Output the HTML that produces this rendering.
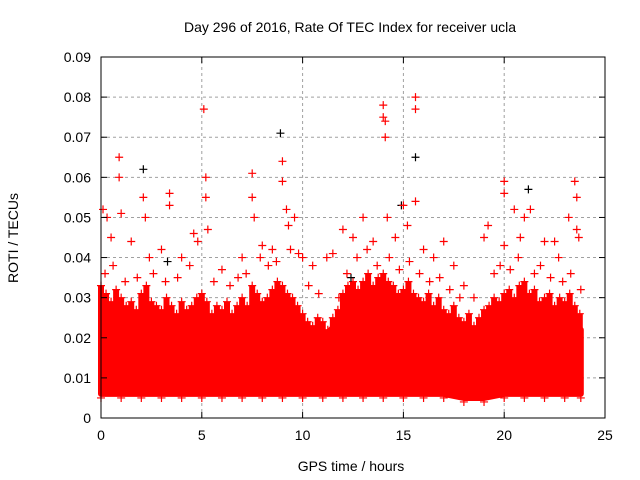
<!DOCTYPE html>
<html><head><meta charset="utf-8"><style>
body{margin:0;background:#fff;}
svg{display:block;font-family:"Liberation Sans",sans-serif;}
</style></head><body>
<svg id="chart" width="640" height="480">
<text x="350" y="32" text-anchor="middle" font-size="14">Day 296 of 2016, Rate Of TEC Index for receiver ucla</text>
<text x="351" y="471" text-anchor="middle" font-size="14">GPS time / hours</text>
<text transform="translate(18,238) rotate(-90)" text-anchor="middle" font-size="14">ROTI / TECUs</text>
<g id="grid"></g><g id="band"></g><g id="pts"></g><g id="axes"></g>
</svg>
<script>
const xTicks=[0,5,10,15,20,25];
const yTicks=[0,0.01,0.02,0.03,0.04,0.05,0.06,0.07,0.08,0.09];
const yTickLabels=["0","0.01","0.02","0.03","0.04","0.05","0.06","0.07","0.08","0.09"];
const bandHours=[0,1,2,3,4,5,6,7,8,9,10,11,12,13,14,15,16,17,18,19,20,21,22,23,23.8];
const bandUpper=[0.027,0.025,0.026,0.024,0.024,0.023,0.023,0.024,0.025,0.026,0.021,0.020,0.025,0.027,0.028,0.027,0.024,0.022,0.019,0.023,0.025,0.026,0.025,0.024,0.022];
const bandLower=[0.006,0.006,0.006,0.006,0.006,0.006,0.006,0.006,0.006,0.006,0.006,0.006,0.006,0.006,0.006,0.006,0.006,0.006,0.005,0.005,0.006,0.006,0.006,0.006,0.006];
const fringeHours=[0,0.25,0.5,0.75,1,1.25,1.5,1.75,2,2.25,2.5,2.75,3,3.25,3.5,3.75,4,4.25,4.5,4.75,5,5.25,5.5,5.75,6,6.25,6.5,6.75,7,7.25,7.5,7.75,8,8.25,8.5,8.75,9,9.25,9.5,9.75,10,10.25,10.5,10.75,11,11.25,11.5,11.75,12,12.25,12.5,12.75,13,13.25,13.5,13.75,14,14.25,14.5,14.75,15,15.25,15.5,15.75,16,16.25,16.5,16.75,17,17.25,17.5,17.75,18,18.25,18.5,18.75,19,19.25,19.5,19.75,20,20.25,20.5,20.75,21,21.25,21.5,21.75,22,22.25,22.5,22.75,23,23.25,23.5,23.75];
const fringeValues=[0.033,0.031,0.029,0.032,0.030,0.028,0.029,0.027,0.031,0.033,0.029,0.028,0.027,0.030,0.028,0.026,0.029,0.027,0.028,0.030,0.031,0.029,0.026,0.028,0.027,0.029,0.026,0.028,0.030,0.028,0.033,0.031,0.029,0.030,0.032,0.034,0.033,0.031,0.030,0.028,0.026,0.024,0.023,0.025,0.024,0.022,0.025,0.027,0.031,0.033,0.034,0.032,0.034,0.036,0.033,0.035,0.036,0.034,0.033,0.031,0.032,0.034,0.031,0.030,0.029,0.031,0.028,0.030,0.027,0.026,0.028,0.025,0.024,0.026,0.023,0.025,0.027,0.028,0.030,0.029,0.031,0.032,0.030,0.033,0.034,0.031,0.032,0.029,0.030,0.031,0.028,0.030,0.029,0.031,0.028,0.026];
const redHours=[0.1,0.3,0.5,0.9,0.9,1.0,1.5,2.1,2.2,2.4,3.0,3.4,3.4,4.0,4.6,4.8,5.1,5.2,5.2,5.3,6.0,7.0,7.5,7.5,7.6,8.0,8.5,9.0,9.0,9.2,9.3,9.6,10.0,10.5,11.2,11.5,12.0,12.5,13.0,13.5,14.0,14.0,14.1,14.1,14.2,14.6,15.0,15.2,15.6,15.6,15.6,16.0,16.5,17.0,17.5,18.0,18.5,19.0,19.2,20.0,20.0,20.0,20.5,20.8,21.0,21.3,22.0,22.5,22.7,23.2,23.5,23.6,23.6,23.7,
0.2,0.6,1.2,1.8,2.6,3.2,3.8,4.4,5.6,6.4,6.8,7.2,7.9,8.3,8.7,9.4,9.8,10.3,10.8,11.8,12.2,12.7,13.2,13.7,14.3,14.8,15.3,15.8,16.3,16.8,17.3,17.8,19.5,19.8,20.3,20.7,21.5,21.8,22.3,22.9,23.3,23.8];
const redValues=[0.052,0.05,0.045,0.065,0.06,0.051,0.044,0.055,0.05,0.04,0.042,0.056,0.053,0.04,0.046,0.044,0.077,0.06,0.055,0.047,0.037,0.04,0.061,0.055,0.05,0.043,0.042,0.064,0.059,0.052,0.048,0.05,0.04,0.038,0.04,0.041,0.047,0.045,0.05,0.044,0.078,0.075,0.074,0.07,0.05,0.045,0.053,0.048,0.08,0.077,0.054,0.042,0.04,0.044,0.038,0.033,0.03,0.045,0.048,0.059,0.056,0.043,0.052,0.045,0.05,0.052,0.044,0.044,0.04,0.05,0.059,0.055,0.047,0.045,
0.036,0.038,0.034,0.035,0.036,0.034,0.035,0.038,0.034,0.033,0.035,0.036,0.040,0.038,0.039,0.042,0.041,0.033,0.031,0.030,0.036,0.040,0.042,0.038,0.040,0.037,0.039,0.036,0.034,0.035,0.032,0.030,0.036,0.038,0.037,0.040,0.036,0.038,0.035,0.034,0.036,0.032];
const blackHours=[2.1,8.9,15.6,21.2,14.9,3.3,12.4];
const blackValues=[0.062,0.071,0.065,0.057,0.053,0.039,0.035];
const X0=101,X1=605,Y0=418,Y1=57;
const xs=h=>X0+(h/25)*(X1-X0);
const ys=v=>Y0-(v/0.09)*(Y0-Y1);
const NS="http://www.w3.org/2000/svg";
function mk(tag,attrs,parent){const e=document.createElementNS(NS,tag);for(const k in attrs)e.setAttribute(k,attrs[k]);document.getElementById(parent).appendChild(e);return e;}
xTicks.forEach((t,i)=>{
  if(i>0&&i<xTicks.length-1){const g=mk('line',{x1:xs(t),x2:xs(t),y1:Y0,y2:Y1,stroke:'#a0a0a0','stroke-dasharray':'3,3'},'grid');
  
  }
  const tl=mk('text',{x:xs(t),y:Y0+22,'text-anchor':'middle','font-size':'14'},'axes');tl.textContent=t;
  
  
  mk('line',{x1:xs(t),x2:xs(t),y1:Y0,y2:Y0-6,stroke:'#000'},'axes');
  mk('line',{x1:xs(t),x2:xs(t),y1:Y1,y2:Y1+6,stroke:'#000'},'axes');
});
yTicks.forEach((t,i)=>{
  if(i>0&&i<yTicks.length-1){const g=mk('line',{x1:X0,x2:X1,y1:ys(t),y2:ys(t),stroke:'#a0a0a0','stroke-dasharray':'3,3'},'grid');
  
  }
  const tl=mk('text',{x:X0-10,y:ys(t)+5,'text-anchor':'end','font-size':'14'},'axes');tl.textContent=yTickLabels[i];
  
  
  mk('line',{x1:X0,x2:X0+6,y1:ys(t),y2:ys(t),stroke:'#000'},'axes');
  mk('line',{x1:X1,x2:X1-6,y1:ys(t),y2:ys(t),stroke:'#000'},'axes');
});
const fr=mk('rect',{x:X0,y:Y1,width:X1-X0,height:Y0-Y1,fill:'none',stroke:'#000'},'axes');


let d='M'+bandHours.map((h,i)=>xs(h)+','+ys(bandUpper[i])).join(' L');
for(let i=bandHours.length-1;i>=0;i--)d+=' L'+xs(bandHours[i])+','+ys(bandLower[i]);
const band=mk('path',{d:d+'Z',fill:'#ff0000',stroke:'#ff0000','stroke-width':'6','stroke-linejoin':'round'},'band');


function cross(h,v,col,name){const x=xs(h),y=ys(v);
  const p=mk('path',{d:`M${x-4},${y}H${x+4}M${x},${y-4}V${y+4}`,stroke:col,'stroke-width':'1.2'},'pts');
  
  }
function column(h,top,bottom){const x=xs(h);
  const c=mk('rect',{x:x-3,y:ys(top),width:6,height:ys(bottom)-ys(top),fill:'#ff0000'},'band');
  
  }
fringeHours.forEach((h,i)=>{column(h,fringeValues[i],0.012);cross(h,fringeValues[i],'#ff0000','roti-point');});
bandHours.forEach((h,i)=>{cross(h,bandLower[i]-0.001,'#ff0000','roti-point');});
blackHours.forEach((h,i)=>cross(h,blackValues[i],'#000','roti-point-black'));
redHours.forEach((h,i)=>cross(h,redValues[i],'#ff0000','roti-point'));
</script>
</body></html>
